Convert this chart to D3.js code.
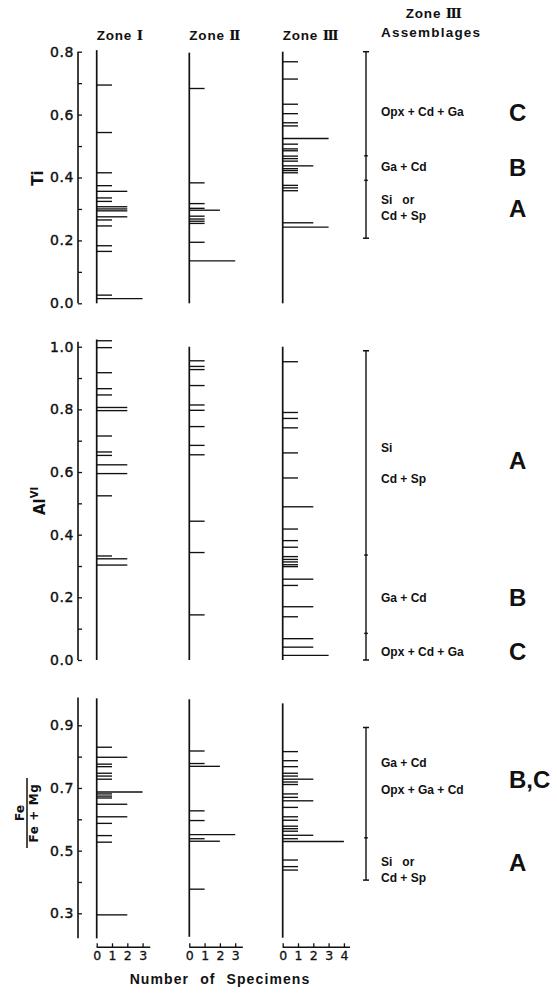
<!DOCTYPE html>
<html>
<head>
<meta charset="utf-8">
<script src="https://cdn.jsdelivr.net/npm/d3@7"></script>
<style>
  body { margin: 0; background: #fff; }
  text { fill: #111; }
</style>
</head>
<body>
<svg id="chart" width="557" height="994"></svg>
<script>
// values: [composition, number of specimens]
const tiZone1 = [[0.694,1],[0.543,1],[0.415,1],[0.374,1],[0.356,2],[0.335,1],[0.324,1],[0.307,2],[0.300,2],[0.294,2],[0.275,2],[0.265,1],[0.246,1],[0.183,1],[0.165,1],[0.026,1],[0.015,3]]
const tiZone2 = [[0.683,1],[0.383,1],[0.317,1],[0.302,1],[0.296,2],[0.277,1],[0.268,1],[0.261,1],[0.254,1],[0.194,1],[0.135,3]]
const tiZone3 = [[0.768,1],[0.713,1],[0.633,1],[0.603,1],[0.574,1],[0.564,1],[0.524,3],[0.506,1],[0.491,1],[0.485,1],[0.468,1],[0.460,1],[0.452,1],[0.437,2],[0.428,1],[0.422,1],[0.415,1],[0.375,1],[0.367,1],[0.358,1],[0.256,2],[0.242,3]]

const alZone1 = [[1.019,1],[0.997,1],[0.917,1],[0.866,1],[0.846,1],[0.806,2],[0.796,2],[0.715,1],[0.664,1],[0.653,1],[0.623,2],[0.595,2],[0.524,1],[0.332,1],[0.323,2],[0.303,2]]
const alZone2 = [[0.955,1],[0.937,1],[0.927,1],[0.876,1],[0.814,1],[0.797,1],[0.745,1],[0.685,1],[0.655,1],[0.443,1],[0.343,1],[0.144,1]]
const alZone3 = [[0.952,1],[0.790,1],[0.771,1],[0.741,1],[0.661,1],[0.581,1],[0.489,2],[0.418,1],[0.381,1],[0.360,1],[0.330,1],[0.321,1],[0.313,1],[0.304,1],[0.298,1],[0.258,2],[0.238,1],[0.170,2],[0.138,1],[0.068,2],[0.041,2],[0.015,3]]

const feZone1 = [[0.830,1],[0.798,2],[0.776,1],[0.768,1],[0.747,1],[0.738,1],[0.728,1],[0.687,3],[0.681,1],[0.674,1],[0.668,1],[0.648,2],[0.608,2],[0.587,1],[0.548,1],[0.527,1],[0.295,2]]
const feZone2 = [[0.818,1],[0.778,1],[0.769,2],[0.627,1],[0.596,1],[0.551,3],[0.538,1],[0.530,2],[0.377,1]]
const feZone3 = [[0.816,1],[0.787,1],[0.768,1],[0.747,1],[0.738,1],[0.728,2],[0.719,1],[0.711,1],[0.681,1],[0.670,1],[0.659,2],[0.638,1],[0.608,1],[0.597,1],[0.578,1],[0.570,1],[0.562,1],[0.549,2],[0.538,1],[0.529,4],[0.470,1],[0.449,1],[0.438,1]]

// zone III assemblage ranges (ends and breaks)
const tiRange = [0.8, 0.469, 0.391, 0.207]
const alRange = [0.987, 0.335, 0.085, 0.0]
const feRange = [0.893, 0.541, 0.406]

const tiNotes = [[0.608,'Opx + Cd + Ga'],[0.433,'Ga + Cd'],[0.328,'Si\u00a0\u00a0\u00a0or'],[0.278,'Cd + Sp']]
const alNotes = [[0.678,'Si'],[0.578,'Cd + Sp'],[0.199,'Ga + Cd'],[0.026,'Opx + Cd + Ga']]
const feNotes = [[0.781,'Ga + Cd'],[0.694,'Opx + Ga + Cd'],[0.464,'Si\u00a0\u00a0\u00a0or'],[0.413,'Cd + Sp']]

const tiLetters = [[0.608,'C'],[0.433,'B'],[0.303,'A']]
const alLetters = [[0.638,'A'],[0.199,'B'],[0.026,'C']]
const feLetters = [[0.729,'B,C'],[0.464,'A']]

const zoneNames = ['I', 'II', 'III']
const countTicks = [[0,1,2,3],[0,1,2,3],[0,1,2,3,4]]
const countMax = [3.5, 3.5, 4.4]

const svg = d3.select('#chart')
const sans = '"Liberation Sans", Arial, sans-serif'
const wide = '"DejaVu Sans", sans-serif'

const zoneX = [96.7, 189.3, 282.7]
const xScales = zoneX.map(x0 => d3.scaleLinear().domain([0, 1]).range([x0, x0 + 15.3]))
const axisX = 78
const rangeX = 366

const panels = [
    {
        y: d3.scaleLinear().domain([0, 0.8]).range([303.3, 51.7]),
        axisExtent: [0, 0.8],
        ticks: d3.range(0, 9).map(i => i / 10),
        zones: [tiZone1, tiZone2, tiZone3],
        zoneExtent: [[0, 0.805], [0, 0.797], [0, 0.8]],
        range: tiRange, notes: tiNotes, letters: tiLetters
    },
    {
        y: d3.scaleLinear().domain([0, 1]).range([660, 346.7]),
        axisExtent: [0, 1.016],
        ticks: d3.range(0, 11).map(i => i / 10),
        zones: [alZone1, alZone2, alZone3],
        zoneExtent: [[0, 1.023], [0, 1.0], [0, 1.0]],
        range: alRange, notes: alNotes, letters: alLetters
    },
    {
        y: d3.scaleLinear().domain([0.3, 0.9]).range([913.3, 725.3]),
        axisExtent: [0.22, 0.989],
        ticks: d3.range(3, 10).map(i => i / 10),
        zones: [feZone1, feZone2, feZone3],
        zoneExtent: [[0.22, 0.986], [0.225, 0.983], [0.222, 0.97]],
        range: feRange, notes: feNotes, letters: feLetters,
        oddLabels: true
    }
]

panels.forEach(function (p) {
    const g = svg.append('g').attr('class', 'panel')

    // y axis: ticks point inward, every other one labelled
    const labelled = d => {
        const k = Math.round(d * 10) % 2
        return p.oddLabels ? k === 1 : k === 0
    }
    const axis = d3.axisLeft(p.y)
        .tickValues(p.ticks)
        .tickSize(-4)
        .tickSizeOuter(0)
        .tickPadding(4)
        .tickFormat(d => labelled(d) ? d3.format('.1f')(d) : '')

    const ag = g.append('g')
        .attr('transform', `translate(${axisX},0)`)
        .call(axis)
    ag.select('.domain').remove()
    ag.selectAll('line').attr('stroke', '#111').attr('stroke-width', 1.3)
    ag.selectAll('text')
        .attr('font-family', wide)
        .attr('font-size', 14)
        .attr('letter-spacing', 0.6)
        .attr('fill', '#111')
        .attr('stroke', '#111')
        .attr('stroke-width', 0.4)
    ag.append('line')
        .attr('y1', p.y(p.axisExtent[0]))
        .attr('y2', p.y(p.axisExtent[1]))
        .attr('stroke', '#111')
        .attr('stroke-width', 1.6)

    // histogram bars for each zone
    p.zones.forEach(function (zone, i) {
        const x = xScales[i]
        g.append('line')
            .attr('x1', x(0)).attr('x2', x(0))
            .attr('y1', p.y(p.zoneExtent[i][0]))
            .attr('y2', p.y(p.zoneExtent[i][1]))
            .attr('stroke', '#111')
            .attr('stroke-width', 1.7)

        g.selectAll(null)
            .data(zone)
            .join('line')
            .attr('x1', x(0))
            .attr('x2', d => x(d[1]))
            .attr('y1', d => p.y(d[0]))
            .attr('y2', d => p.y(d[0]))
            .attr('stroke', '#111')
            .attr('stroke-width', 1.35)
    })

    // assemblage range bar
    const ext = d3.extent(p.range)
    g.append('line')
        .attr('x1', rangeX).attr('x2', rangeX)
        .attr('y1', p.y(ext[0])).attr('y2', p.y(ext[1]))
        .attr('stroke', '#111')
        .attr('stroke-width', 1.4)
    g.selectAll(null)
        .data(p.range)
        .join('line')
        .attr('x1', d => rangeX - ((d === ext[0] || d === ext[1]) ? 3 : 1.8))
        .attr('x2', d => rangeX + ((d === ext[0] || d === ext[1]) ? 3 : 1.8))
        .attr('y1', d => p.y(d))
        .attr('y2', d => p.y(d))
        .attr('stroke', '#111')
        .attr('stroke-width', 1.5)

    g.selectAll(null)
        .data(p.notes)
        .join('text')
        .attr('x', 381)
        .attr('y', d => p.y(d[0]))
        .attr('dy', '0.36em')
        .attr('font-family', sans)
        .attr('font-weight', 'bold')
        .attr('font-size', 12)
        .text(d => d[1])

    g.selectAll(null)
        .data(p.letters)
        .join('text')
        .attr('x', 509)
        .attr('y', d => p.y(d[0]))
        .attr('dy', '0.36em')
        .attr('font-family', sans)
        .attr('font-weight', 'bold')
        .attr('font-size', 24)
        .text(d => d[1])
})

// count axes under the last panel
const bottomY = 947.3
xScales.forEach(function (x, i) {
    const bx = d3.axisBottom(x)
        .tickValues(countTicks[i])
        .tickSize(-4)
        .tickSizeOuter(0)
        .tickPadding(4)
        .tickFormat(d3.format('d'))
    const bg = svg.append('g')
        .attr('transform', `translate(0,${bottomY})`)
        .call(bx)
    bg.select('.domain').remove()
    bg.selectAll('line').attr('stroke', '#111').attr('stroke-width', 1.3)
    bg.selectAll('text')
        .attr('font-family', wide)
        .attr('font-size', 12.5)
        .attr('fill', '#111')
        .attr('stroke', '#111')
        .attr('stroke-width', 0.3)
    bg.append('line')
        .attr('x1', x(0)).attr('x2', x(countMax[i]))
        .attr('stroke', '#111')
        .attr('stroke-width', 1.5)
})

svg.append('text')
    .attr('x', 220)
    .attr('y', 984)
    .attr('text-anchor', 'middle')
    .attr('font-family', sans)
    .attr('font-weight', 'bold')
    .attr('font-size', 14)
    .attr('letter-spacing', 1.1)
    .attr('word-spacing', 6)
    .text('Number of Specimens')

// zone headers
zoneNames.forEach(function (n, i) {
    const t = svg.append('text')
        .attr('x', zoneX[i])
        .attr('y', 40)
        .attr('font-family', sans)
        .attr('font-weight', 'bold')
        .attr('font-size', 13.5)
        .attr('letter-spacing', 0.8)
    t.append('tspan').text('Zone ')
    t.append('tspan')
        .attr('font-family', '"DejaVu Serif", serif')
        .attr('letter-spacing', -1.5)
        .text(n)
})

const hz = svg.append('text')
    .attr('x', 433)
    .attr('y', 18)
    .attr('text-anchor', 'middle')
    .attr('font-family', sans)
    .attr('font-weight', 'bold')
    .attr('font-size', 13.5)
    .attr('letter-spacing', 0.8)
hz.append('tspan').text('Zone ')
hz.append('tspan').attr('font-family', '"DejaVu Serif", serif').attr('letter-spacing', -1.5).text('III')

svg.append('text')
    .attr('x', 381)
    .attr('y', 37)
    .attr('font-family', sans)
    .attr('font-weight', 'bold')
    .attr('font-size', 13.5)
    .attr('letter-spacing', 1.2)
    .text('Assemblages')

// y axis titles
svg.append('text')
    .attr('transform', 'translate(43,178) rotate(-90)')
    .attr('text-anchor', 'middle')
    .attr('font-family', wide)
    .attr('font-weight', 'bold')
    .attr('font-size', 15)
    .text('Ti')

const al = svg.append('text')
    .attr('transform', 'translate(45,501) rotate(-90)')
    .attr('text-anchor', 'middle')
    .attr('font-family', wide)
    .attr('font-weight', 'bold')
    .attr('font-size', 15)
al.append('tspan').text('Al')
al.append('tspan').attr('font-size', 10).attr('dy', -7).text('VI')

const fe = svg.append('g').attr('transform', 'translate(27,813) rotate(-90)')
fe.append('line')
    .attr('x1', -35).attr('x2', 35)
    .attr('stroke', '#111')
    .attr('stroke-width', 1.5)
fe.append('text')
    .attr('y', -3)
    .attr('text-anchor', 'middle')
    .attr('font-family', wide)
    .attr('font-weight', 'bold')
    .attr('font-size', 12.5)
    .text('Fe')
fe.append('text')
    .attr('y', 11)
    .attr('text-anchor', 'middle')
    .attr('font-family', wide)
    .attr('font-weight', 'bold')
    .attr('font-size', 12)
    .attr('letter-spacing', 0.6)
    .text('Fe + Mg')
</script>
</body>
</html>
